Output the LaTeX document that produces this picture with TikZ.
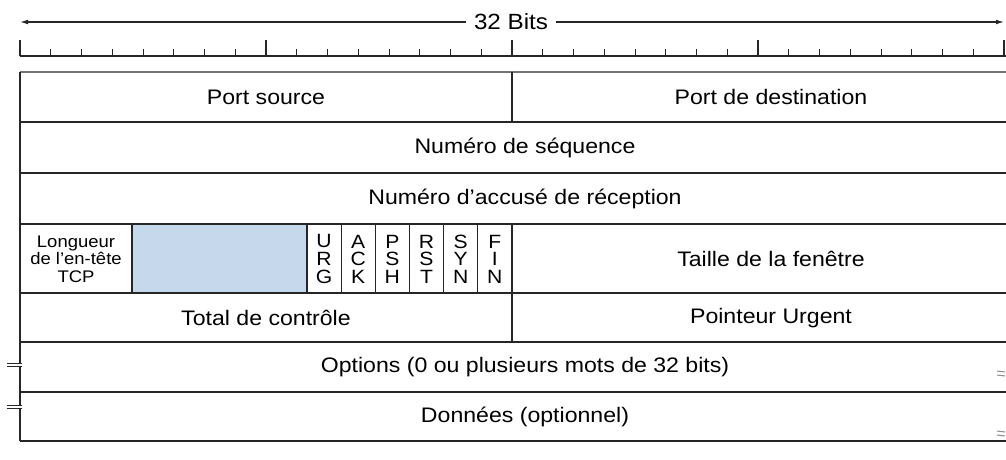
\documentclass[tikz,border=0pt]{standalone}
\usepackage{fontspec}
\setmainfont{Liberation Sans}[FakeStretch=1.1]
\usepackage{tikz}
\usetikzlibrary{arrows.meta,positioning,calc}
\definecolor{resblue}{RGB}{198,217,236}
\tikzstyle{field}=[inner sep=0pt, font=\fontsize{10.5}{12}\selectfont]
\tikzstyle{small}=[inner sep=0pt, align=center, font=\fontsize{8.4}{8.7}\selectfont]
\tikzstyle{flag}=[inner sep=0pt, align=center, font=\fontsize{9.6}{8.8}\selectfont]
\tikzstyle{rule}=[line width=0.6pt, black!85]
\tikzstyle{brk}=[line width=0.5pt, black!45]
% one bit of the header is 30.75 units wide, starting at x=20
\newcommand{\bitx}[1]{20+30.75*#1}

\begin{document}
\begin{tikzpicture}[x=0.5pt, y=-0.5pt, >={Latex[length=4pt,width=2.4pt]}]
        \useasboundingbox (0,0) rectangle (1006,460);
        \clip (0,0) rectangle (1006,460);
        %
        % width arrow and bit ruler
        \node[field, font=\fontsize{11}{12}\selectfont, inner xsep=4pt] (bits) at (511,22) {32 Bits};
        \coordinate (lend) at (20,22);
        \coordinate (rend) at (1004,22);
        \draw[rule, ->] (bits) -- (lend);
        \draw[rule, ->] (bits) -- (rend);
        \draw[rule] (20,56) -- (1006,56);
        \foreach \i in {0,...,32}
            \draw[rule, line width=0.4pt] ({\bitx{\i}},56) -- ++(0,-7);
        \foreach \i in {0,8,...,32}
            \draw[rule] ({\bitx{\i}},56) -- ++(0,-16);
        %
        % reserved bits
        \fill[resblue] (132,224) rectangle (307,293);
        %
        % rows
        \draw[rule, black!55] (20,72) -- (1030,72);
        \foreach \y in {122,173,224,293,342,392,441}
            \draw[rule] (20,\y) -- (1030,\y);
        \draw[rule] (20,72) -- (20,363) (20,366) -- (20,405) (20,408) -- (20,441);
        \draw[rule] (512,72) -- (512,122) (512,224) -- (512,342);
        \draw[rule] (132,224) -- (132,293) (307,224) -- (307,293);
        \foreach \k in {1,...,5}
            \draw[rule] ({307+34.17*\k},224) -- ({307+34.17*\k},293);
        %
        % break marks
        \foreach \y in {363,405} {
            \draw[rule, line width=0.5pt] (7,\y) -- (22,\y) (7,\y+3) -- (22,\y+3);
            }
        \foreach \y in {371,431} {
            \draw[brk] (997,\y) -- (1005,\y+1) (997,\y+4) -- (1005,\y+5);
            }
        %
        % field labels
        \node[field] (srcport) at (266,97) {Port source};
        \node[field] (dstport) at (771,97) {Port de destination};
        \node[field] (seqnum) at (525,148) {Numéro de séquence};
        \node[field] (acknum) at (525,199) {Numéro d'accusé de réception};
        \node[small] (hdrlen) at (76,259) {Longueur\\de l'en-tête\\TCP};
        \foreach \f/\txt [count=\k from 0] in {urg/U\\R\\G, ack/A\\C\\K, psh/P\\S\\H, rst/R\\S\\T, syn/S\\Y\\N, fin/F\\I\\N}
            \node[flag] (\f) at ({324+34.17*\k},259) {\txt};
        \node[field] (window) at (771,259) {Taille de la fenêtre};
        \node[field] (checksum) at (266,318) {Total de contrôle};
        \node[field] (urgptr) at (771,318) {Pointeur Urgent};
        \node[field] (options) at (525,367) {Options (0 ou plusieurs mots de 32 bits)};
        \node[field] (data) at (525,417) {Données (optionnel)};
\end{tikzpicture}
\end{document}
